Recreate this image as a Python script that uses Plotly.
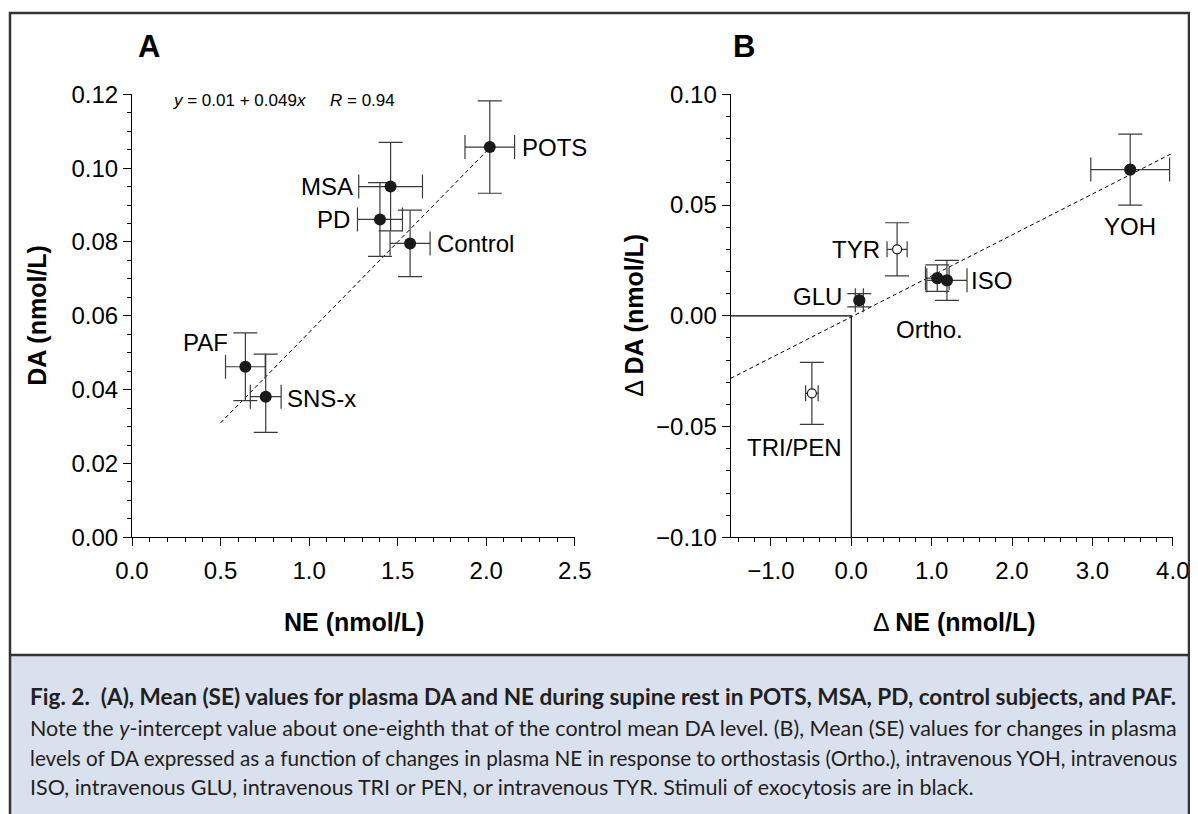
import plotly.graph_objects as go

# page is shown with an 8px body margin: figure placed at (8, 8)
OFF = 8
W, H = 1190, 806

# ---------------- Panel A data (supine rest) ----------------
groups_a = ["POTS", "MSA", "PD", "Control", "PAF", "SNS-x"]
ne_a = [2.02, 1.46, 1.40, 1.57, 0.64, 0.755]
da_a = [0.1057, 0.0950, 0.0861, 0.0796, 0.0462, 0.0381]
ne_se_a = [0.14, 0.18, 0.127, 0.113, 0.112, 0.087]
da_se_up_a = [0.0125, 0.012, 0.010, 0.009, 0.0092, 0.0115]
da_se_dn_a = [0.0125, 0.012, 0.010, 0.009, 0.0092, 0.0097]
fit_a_x = [0.5, 2.02]
fit_a_intercept = 0.0065
fit_a_slope = 0.049

# ---------------- Panel B data (responses) ----------------
stim_b = ["YOH", "TYR", "GLU", "Ortho.", "ISO", "TRI/PEN"]
dne_b = [3.47, 0.57, 0.10, 1.07, 1.19, -0.49]
dda_b = [0.066, 0.030, 0.007, 0.017, 0.016, -0.035]
dne_se_b = [0.49, 0.125, 0.05, 0.147, 0.25, 0.078]
dda_se_b = [0.016, 0.012, 0.003, 0.006, 0.009, 0.014]
exocytosis_b = [True, False, True, True, True, False]
fit_b_x = [-1.5, 4.0]
fit_b_intercept = -0.0005
fit_b_slope = 0.0185
ref_b_x = [-1.5, 0.0, 0.0]
ref_b_y = [0.0, 0.0, -0.10]

# tick settings
xa_range, xa_dtick = [0, 2.5], 0.5
ya_range, ya_dtick = [0, 0.12], 0.02
xb_range, xb_dtick = [-1.5, 4.0], 1.0
yb_range, yb_dtick = [-0.10, 0.10], 0.05

FONT = "Liberation Sans"
INK = "#1a1a1a"
ERR = "#3a3a3a"


def px(x):
    """page pixel x -> paper fraction"""
    return (x - OFF) / W


def py(y):
    """page pixel y -> paper fraction"""
    return 1 - (y - OFF) / H


fig = go.Figure()

# ---- Panel A ----
fig.add_trace(go.Scatter(
    x=fit_a_x, y=[fit_a_intercept + fit_a_slope * v for v in fit_a_x],
    mode="lines", line=dict(color="black", width=1, dash="4px,3px"),
    xaxis="x", yaxis="y", hoverinfo="skip"))
fig.add_trace(go.Scatter(
    x=ne_a, y=da_a, mode="markers", text=groups_a,
    marker=dict(size=12, color=INK),
    error_x=dict(type="data", array=ne_se_a, color=ERR, thickness=1.2, width=12),
    error_y=dict(type="data", array=da_se_up_a, arrayminus=da_se_dn_a,
                 color=ERR, thickness=1.2, width=12),
    xaxis="x", yaxis="y"))

# ---- Panel B ----
fig.add_trace(go.Scatter(
    x=ref_b_x, y=ref_b_y, mode="lines", line=dict(color="black", width=1.2),
    xaxis="x2", yaxis="y2", hoverinfo="skip"))
fig.add_trace(go.Scatter(
    x=fit_b_x, y=[fit_b_intercept + fit_b_slope * v for v in fit_b_x],
    mode="lines", line=dict(color="black", width=1, dash="4px,3px"),
    xaxis="x2", yaxis="y2", hoverinfo="skip"))

for filled in (True, False):
    idx = [i for i, e in enumerate(exocytosis_b) if e == filled]
    fig.add_trace(go.Scatter(
        x=[dne_b[i] for i in idx], y=[dda_b[i] for i in idx],
        text=[stim_b[i] for i in idx], mode="markers",
        marker=dict(size=11 if filled else 9,
                    color=INK if filled else "white",
                    line=dict(color=INK, width=1.2)),
        error_x=dict(type="data", array=[dne_se_b[i] for i in idx],
                     color=ERR, thickness=1.2, width=12 if filled else 8),
        error_y=dict(type="data", array=[dda_se_b[i] for i in idx],
                     color=ERR, thickness=1.2, width=12),
        xaxis="x2", yaxis="y2"))

axis_common = dict(
    automargin=False,
    showline=True, linecolor="black", linewidth=1.2,
    ticks="outside", ticklen=8, tickwidth=1.2, tickcolor="black",
    showgrid=False, zeroline=False,
    tickfont=dict(family=FONT, size=24, color="black"),
    minor=dict(ticks="outside", ticklen=4, tickwidth=1, tickcolor="black", showgrid=False),
)

ydom = [py(537.3), py(94.3)]

fig.update_layout(
    template="none",
    width=W, height=H,
    margin=dict(l=0, r=0, t=0, b=0, pad=0, autoexpand=False),
    paper_bgcolor="white", plot_bgcolor="rgba(0,0,0,0)",
    showlegend=False,
    xaxis=dict(axis_common, domain=[px(132), px(574.8)], range=xa_range,
               tick0=0, dtick=xa_dtick, tickformat=".1f", anchor="y",
               ticklabelstandoff=4, minor=dict(axis_common["minor"], dtick=0.1, tick0=0)),
    yaxis=dict(axis_common, domain=ydom, range=ya_range,
               tick0=0, dtick=ya_dtick, tickformat=".2f", anchor="x",
               minor=dict(axis_common["minor"], dtick=0.005, tick0=0)),
    xaxis2=dict(axis_common, domain=[px(730.7), px(1172.8)], range=xb_range,
                tick0=0, dtick=xb_dtick, tickformat=".1f", anchor="y2",
                ticklabelstandoff=4, minor=dict(axis_common["minor"], dtick=0.2, tick0=0)),
    yaxis2=dict(axis_common, domain=ydom, range=yb_range,
                tick0=0, dtick=yb_dtick, tickformat=".2f", anchor="x2",
                minor=dict(axis_common["minor"], dtick=0.01, tick0=0)),
)

ann = []
lab_font = dict(family=FONT, size=24, color="black")

# point labels panel A: (xanchor, xshift, yshift)
lab_a = {
    "POTS": ("left", 30, 0),
    "MSA": ("right", -36, 0),
    "PD": ("right", -28, 0),
    "Control": ("left", 25, 0),
    "PAF": ("right", -15, 24),
    "SNS-x": ("left", 19, -2),
}
for g, xv, yv in zip(groups_a, ne_a, da_a):
    xa, xs, ys = lab_a[g]
    ann.append(dict(x=xv, y=yv, xref="x", yref="y", text=g, showarrow=False,
                    xanchor=xa, yanchor="middle", xshift=xs, yshift=ys, font=lab_font))

lab_b = {
    "YOH": ("center", 0, -57),
    "TYR": ("right", -15, 0),
    "GLU": ("right", -15, 4),
    "Ortho.": ("center", -8, -51),
    "ISO": ("left", 22, 0),
    "TRI/PEN": ("center", -17, -54),
}
for g, xv, yv in zip(stim_b, dne_b, dda_b):
    xa, xs, ys = lab_b[g]
    ann.append(dict(x=xv, y=yv, xref="x2", yref="y2", text=g, showarrow=False,
                    xanchor=xa, yanchor="middle", xshift=xs, yshift=ys, font=lab_font))

# regression equation
eq_font = dict(family=FONT, size=17, color="black")
ann.append(dict(x=0.088, y=0.985, xref="x domain", yref="y domain",
                text="<i>y</i> = 0.01 + 0.049<i>x</i>", showarrow=False,
                xanchor="left", yanchor="middle", font=eq_font))
ann.append(dict(x=0.443, y=0.985, xref="x domain", yref="y domain",
                text="<i>R</i> = 0.94", showarrow=False,
                xanchor="left", yanchor="middle", font=eq_font))

# panel letters
for letter, xc in (("A", 149), ("B", 744)):
    ann.append(dict(x=px(xc), y=py(46), xref="paper", yref="paper", text=f"<b>{letter}</b>",
                    showarrow=False, xanchor="center", yanchor="middle",
                    font=dict(family=FONT, size=31, color="black")))

# axis titles
title_font = dict(family=FONT, size=25, color="black")
titles = [
    ("<b>NE (nmol/L)</b>", 354, 621.7, 0),
    ("\u0394 <b>NE (nmol/L)</b>", 955, 621.7, 0),
    ("<b>DA (nmol/L)</b>", 37, 315.8, -90),
    ("\u0394 <b>DA (nmol/L)</b>", 634, 315.8, -90),
]
for t, xx, yy, ang in titles:
    ann.append(dict(x=px(xx), y=py(yy), xref="paper", yref="paper", text=t,
                    textangle=ang, showarrow=False, xanchor="center", yanchor="middle",
                    font=title_font))

# caption (line text, font size)
caption_lines = [
    "<b>Fig. 2.  (A), Mean (SE) values for plasma DA and NE during supine rest in POTS, MSA, PD, control subjects, and PAF.</b>",
    "Note the <i>y</i>-intercept value about one-eighth that of the control mean DA level. (B), Mean (SE) values for changes in plasma",
    "levels of DA expressed as a function of changes in plasma NE in response to orthostasis (Ortho.), intravenous YOH, intravenous",
    "ISO, intravenous GLU, intravenous TRI or PEN, or intravenous TYR. Stimuli of exocytosis are in black.",
]
caption_size = [22.6, 21.5, 20.7, 21.5]
caption_y = [696, 728, 758.3, 786.7]
for t, sz, yy in zip(caption_lines, caption_size, caption_y):
    ann.append(dict(x=px(28), y=py(yy), xref="paper", yref="paper", text=t,
                    showarrow=False, xanchor="left", yanchor="middle",
                    font=dict(family="Lato", size=sz, color="#231f20")))

fig.update_layout(annotations=ann)

# frame and caption box
frame_col = "#333333"
shapes = [
    dict(type="rect", xref="paper", yref="paper", x0=px(10), x1=px(1189), y0=py(840), y1=py(655),
         fillcolor="#d9e1ef", line=dict(width=0), layer="below"),
    dict(type="rect", xref="paper", yref="paper", x0=px(10), x1=px(1189), y0=py(840), y1=py(13),
         line=dict(color=frame_col, width=2.5), fillcolor="rgba(0,0,0,0)"),
    dict(type="line", xref="paper", yref="paper", x0=px(10), x1=px(1189), y0=py(655), y1=py(655),
         line=dict(color=frame_col, width=2.5)),
]
fig.update_layout(shapes=shapes)

fig.write_html("out.html")
